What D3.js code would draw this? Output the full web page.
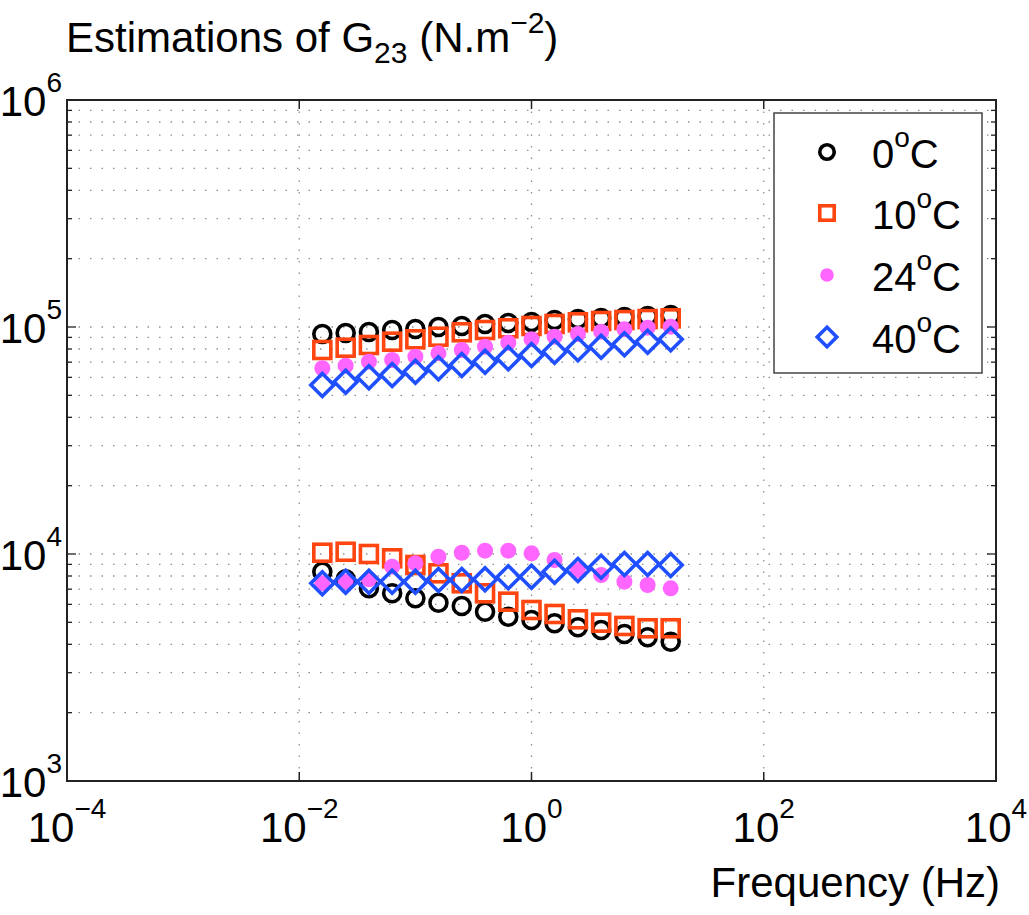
<!DOCTYPE html>
<html>
<head>
<meta charset="utf-8">
<script src="https://cdn.jsdelivr.net/npm/d3@7"></script>
<style>
  html, body { margin: 0; padding: 0; background: #fff; }
  svg { display: block; font-family: "Liberation Sans", Arial, Helvetica, sans-serif; }
</style>
</head>
<body>
<svg id="chart" width="1029" height="915"></svg>
<script>
// ---- data ----
const frequency = [0.0158, 0.0251, 0.0398, 0.0631, 0.1, 0.158, 0.251, 0.398, 0.631, 1.0, 1.58, 2.51, 3.98, 6.31, 10.0, 15.8];

const t0Upper  = [93150, 94100, 95060, 97000, 98000, 100000, 101000, 103100, 104100, 105200, 107300, 108400, 109500, 110700, 111800, 112900];
const t0Lower  = [8356, 7736, 7062, 6713, 6380, 6103, 5902, 5568, 5293, 5119, 4952, 4755, 4627, 4443, 4296, 4109];
const t10Upper = [79200, 81060, 83300, 86150, 88270, 90630, 94770, 97000, 98700, 101000, 103100, 104900, 106300, 107300, 108400, 109200];
const t10Lower = [10130, 10230, 10000, 9574, 8945, 8222, 7430, 6713, 6166, 5666, 5441, 5157, 4983, 4819, 4708, 4708];
const t24Upper = [65800, 67530, 70330, 71550, 73990, 76580, 79200, 81900, 85270, 88270, 90630, 93150, 95350, 97700, 99300, 100300];
const t24Lower = [7430, 7551, 7736, 8793, 9100, 9730, 10130, 10340, 10340, 10070, 9410, 8502, 8083, 7551, 7302, 7062];
const t40Upper = [55530, 57410, 60030, 61440, 63540, 65800, 68040, 70330, 72800, 75290, 77840, 79760, 81900, 83920, 86150, 88270];
const t40Lower = [7430, 7551, 7551, 7551, 7551, 7682, 7682, 7736, 7897, 7943, 8356, 8502, 8793, 9035, 9035, 8945];

const seriesNames = ["0", "10", "24", "40"];
const xTickExps = [-4, -2, 0, 2, 4];
const yTickExps = [3, 4, 5, 6];

// ---- layout ----
const svg = d3.select("#chart");
const L = 67, R = 996, T = 100, B = 781;
const x = d3.scaleLog().domain([1e-4, 1e4]).range([L, R]);
const y = d3.scaleLog().domain([1e3, 1e6]).range([B, T]);

// grid
const gGrid = svg.append("g");
const yGridVals = [];
for (let e = 3; e < 6; e++) for (let m = 1; m <= 9; m++) { const v = m * Math.pow(10, e); if (v > 1e3) yGridVals.push(v); }
gGrid.selectAll("line.hg").data(yGridVals).join("line")
  .attr("x1", L).attr("x2", R).attr("y1", d => y(d)).attr("y2", d => y(d))
  .attr("stroke", "#8f8f8f").attr("stroke-width", 1.3).attr("stroke-dasharray", "1.5,10");
gGrid.selectAll("line.vg").data(xTickExps.slice(1, -1)).join("line")
  .attr("x1", d => x(Math.pow(10, d))).attr("x2", d => x(Math.pow(10, d)))
  .attr("y1", T).attr("y2", B)
  .attr("stroke", "#8f8f8f").attr("stroke-width", 1.3).attr("stroke-dasharray", "1.5,10");

// axes ticks (inner, both sides)
const gAx = svg.append("g").attr("stroke", "#222");
xTickExps.forEach(e => {
  const px = x(Math.pow(10, e));
  gAx.append("line").attr("x1", px).attr("x2", px).attr("y1", B).attr("y2", B - 9).attr("stroke-width", 1.5);
  gAx.append("line").attr("x1", px).attr("x2", px).attr("y1", T).attr("y2", T + 9).attr("stroke-width", 1.5);
});
yGridVals.concat([1e3, 1e6]).forEach(v => {
  const py = y(v);
  const major = Math.abs(Math.log10(v) - Math.round(Math.log10(v))) < 1e-9;
  const len = major ? 9 : 5;
  gAx.append("line").attr("x1", L).attr("x2", L + len).attr("y1", py).attr("y2", py).attr("stroke-width", 1.3);
  gAx.append("line").attr("x1", R).attr("x2", R - len).attr("y1", py).attr("y2", py).attr("stroke-width", 1.3);
});
svg.append("rect").attr("x", L).attr("y", T).attr("width", R - L).attr("height", B - T)
  .attr("fill", "none").attr("stroke", "#222").attr("stroke-width", 2);

// tick labels
const fsTick = 42, fsSup = 28;
xTickExps.forEach(e => {
  const t = svg.append("text").attr("x", x(Math.pow(10, e))).attr("y", 842)
    .attr("text-anchor", "middle").attr("font-size", fsTick).attr("fill", "#000");
  t.append("tspan").text("10");
  t.append("tspan").attr("font-size", fsSup).attr("dy", -24).text(e < 0 ? "\u2212" + (-e) : String(e));
});
yTickExps.forEach(e => {
  const t = svg.append("text").attr("x", 62).attr("y", y(Math.pow(10, e)) + 16)
    .attr("text-anchor", "end").attr("font-size", fsTick).attr("fill", "#000");
  t.append("tspan").text("10");
  t.append("tspan").attr("font-size", fsSup).attr("dy", -24).text(String(e));
});

// title
const title = svg.append("text").attr("x", 66).attr("y", 52).attr("font-size", 42).attr("fill", "#000");
title.append("tspan").text("Estimations of G");
title.append("tspan").attr("font-size", 30).attr("dy", 11).text("23");
title.append("tspan").attr("dy", -11).text(" (N.m");
title.append("tspan").attr("font-size", 30).attr("dy", -19).text("\u22122");
title.append("tspan").attr("dy", 19).text(")");

// x label
svg.append("text").attr("x", 1000).attr("y", 897).attr("text-anchor", "end")
  .attr("font-size", 42).attr("fill", "#000").text("Frequency (Hz)");

// ---- markers ----
const colors = { "0": "#000000", "10": "#ff4510", "24": "#ff66ff", "40": "#1f4fff" };
const makeSymbols = s => ({
  "0": g => g.append("circle").attr("r", 8.5 * s).attr("fill", "none").attr("stroke", colors["0"]).attr("stroke-width", 3.6),
  "10": g => g.append("rect").attr("x", -8.5 * s).attr("y", -8.5 * s).attr("width", 17 * s).attr("height", 17 * s).attr("fill", "none").attr("stroke", colors["10"]).attr("stroke-width", 3.6),
  "24": g => g.append("circle").attr("r", 8 * s).attr("fill", colors["24"]),
  "40": g => g.append("path").attr("d", `M0,${-11.5 * s}L${11.5 * s},0L0,${11.5 * s}L${-11.5 * s},0Z`).attr("fill", "none").attr("stroke", colors["40"]).attr("stroke-width", 3.6)
});
const symbols = makeSymbols(1);
const legendSymbols = makeSymbols(0.85);
const seriesData = {
  "0": [t0Upper, t0Lower], "10": [t10Upper, t10Lower],
  "24": [t24Upper, t24Lower], "40": [t40Upper, t40Lower]
};
const gPts = svg.append("g");
seriesNames.forEach(name => {
  seriesData[name].forEach(arr => {
    arr.forEach((v, i) => {
      const g = gPts.append("g").attr("transform", `translate(${x(frequency[i])},${y(v)})`);
      symbols[name](g);
    });
  });
});

// ---- legend ----
const lg = svg.append("g");
lg.append("rect").attr("x", 774).attr("y", 113).attr("width", 208).attr("height", 260)
  .attr("fill", "#fff").attr("stroke", "#444").attr("stroke-width", 1.5);
const legendRowY = [152, 213, 275, 337];
seriesNames.forEach((name, i) => {
  const g = lg.append("g").attr("transform", `translate(827,${legendRowY[i]})`);
  legendSymbols[name](g);
  const t = lg.append("text").attr("x", 872).attr("y", legendRowY[i] + 16)
    .attr("font-size", 40).attr("fill", "#000");
  t.append("tspan").text(name);
  t.append("tspan").attr("font-size", 28).attr("dy", -21).text("o");
  t.append("tspan").attr("dy", 21).text("C");
});
</script>
</body>
</html>
